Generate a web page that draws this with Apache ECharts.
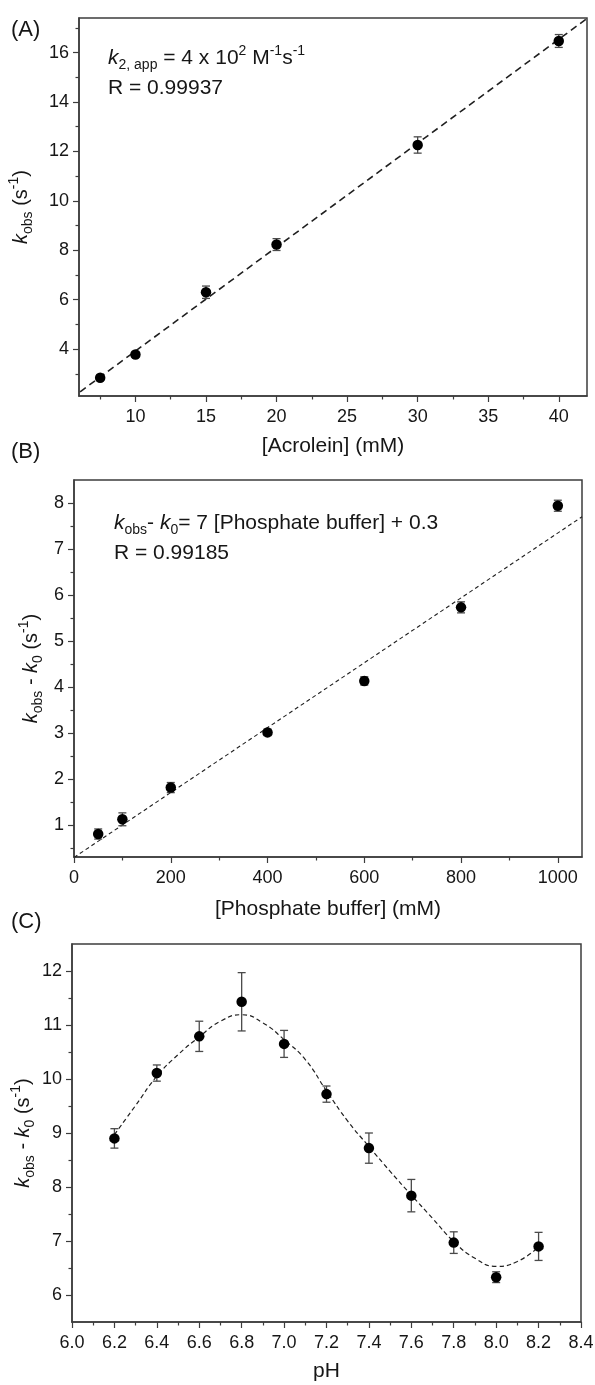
<!DOCTYPE html>
<html>
<head>
<meta charset="utf-8">
<script src="https://cdn.jsdelivr.net/npm/echarts@6/dist/echarts.min.js"></script>
<style>
  html, body { margin: 0; padding: 0; background: #fff; }
  #chart { width: 595px; height: 1385px; }
</style>
</head>
<body>
<div id="chart"></div>
<script>
// ---- Panel A: k_obs vs [Acrolein] ----
const acroleinConc = [7.5, 10, 15, 20, 30, 40];
const kobsA = [2.84, 3.78, 6.30, 8.23, 12.26, 16.47];
const kobsAErr = [0.09, 0.10, 0.25, 0.24, 0.33, 0.26];
const fitAx = [6.08, 42];
const fitAy = [2.27, 17.38];
const ticksAx = [10, 15, 20, 25, 30, 35, 40];
const minorAx = [7.5, 12.5, 17.5, 22.5, 27.5, 32.5, 37.5];
const ticksAy = [4, 6, 8, 10, 12, 14, 16];
const minorAy = [3, 5, 7, 9, 11, 13, 15, 17];

// ---- Panel B: k_obs - k_0 vs [Phosphate buffer] ----
const phosphateConc = [50, 100, 200, 400, 600, 800, 1000];
const kB = [0.80, 1.12, 1.81, 3.01, 4.13, 5.73, 7.94];
const kBErr = [0.11, 0.14, 0.11, 0.07, 0.09, 0.12, 0.12];
const fitBx = [0, 1050];
const fitBy = [0.29, 7.70];
const ticksBx = [0, 200, 400, 600, 800, 1000];
const minorBx = [100, 300, 500, 700, 900];
const ticksBy = [1, 2, 3, 4, 5, 6, 7, 8];
const minorBy = [0.5, 1.5, 2.5, 3.5, 4.5, 5.5, 6.5, 7.5];

// ---- Panel C: k_obs - k_0 vs pH ----
const pHValues = [6.2, 6.4, 6.6, 6.8, 7.0, 7.2, 7.4, 7.6, 7.8, 8.0, 8.2];
const kC = [8.90, 10.11, 10.79, 11.43, 10.65, 9.72, 8.72, 7.84, 6.97, 6.33, 6.90];
const kCErr = [0.18, 0.15, 0.28, 0.54, 0.25, 0.15, 0.28, 0.30, 0.20, 0.10, 0.26];
const curvePH = [6.2, 6.3, 6.4, 6.5, 6.6, 6.7, 6.8, 6.9, 7.0, 7.1, 7.2,
                 7.3, 7.4, 7.5, 7.6, 7.7, 7.8, 7.9, 8.0, 8.1, 8.2];
const curveK = [8.97, 9.51, 10.05, 10.45, 10.78, 11.07, 11.19, 11.04, 10.73, 10.36, 9.78,
                9.22, 8.75, 8.29, 7.85, 7.42, 6.99, 6.68, 6.53, 6.62, 6.89];
const ticksCx = [6.0, 6.2, 6.4, 6.6, 6.8, 7.0, 7.2, 7.4, 7.6, 7.8, 8.0, 8.2, 8.4];
const minorCx = [6.1, 6.3, 6.5, 6.7, 6.9, 7.1, 7.3, 7.5, 7.7, 7.9, 8.1, 8.3];
const ticksCy = [6, 7, 8, 9, 10, 11, 12];
const minorCy = [6.5, 7.5, 8.5, 9.5, 10.5, 11.5];

const FONT = '"Liberation Sans", Arial, sans-serif';
const TEXT = '#161616';
const FRAME = '#3c3c3c';

const zip = (xs, ys, es) => xs.map((x, i) => es ? [x, ys[i], es[i]] : [x, ys[i]]);

// italic symbol, subscript and superscript styles for rich text
function richStyles(size) {
  const small = Math.round(size * 0.68);
  return {
    i: { fontStyle: 'italic', fontSize: size, lineHeight: 28, fontFamily: FONT, color: TEXT, fill: TEXT },
    sub: { fontSize: small, lineHeight: 16, verticalAlign: 'bottom', fontFamily: FONT, color: TEXT, fill: TEXT },
    sup: { fontSize: small, lineHeight: 18, verticalAlign: 'top', fontFamily: FONT, color: TEXT, fill: TEXT }
  };
}

function mainX(grid, min, max, ticks, fmt, name, gap) {
  return {
    gridIndex: grid, type: 'value', position: 'bottom', min: min, max: max,
    axisLine: { show: true, onZero: false, lineStyle: { color: FRAME, width: 1.5 } },
    axisTick: { show: true, inside: false, length: 6, customValues: ticks, lineStyle: { color: FRAME, width: 1.2 } },
    axisLabel: { show: true, customValues: ticks, margin: 12, fontSize: 18, fontFamily: FONT, color: TEXT, formatter: fmt },
    splitLine: { show: false },
    name: name, nameLocation: 'middle', nameGap: gap, nameMoveOverlap: false,
    nameTextStyle: { fontSize: 21, fontFamily: FONT, color: TEXT }
  };
}
function mainY(grid, min, max, ticks, name, gap) {
  return {
    gridIndex: grid, type: 'value', position: 'left', min: min, max: max,
    axisLine: { show: true, onZero: false, lineStyle: { color: FRAME, width: 1.5 } },
    axisTick: { show: true, inside: false, length: 6, customValues: ticks, lineStyle: { color: FRAME, width: 1.2 } },
    axisLabel: { show: true, customValues: ticks, margin: 10, fontSize: 18, fontFamily: FONT, color: TEXT },
    splitLine: { show: false },
    name: name, nameLocation: 'middle', nameGap: gap, nameMoveOverlap: false,
    nameTextStyle: { fontSize: 20, lineHeight: 28, fontFamily: FONT, color: TEXT, rich: richStyles(20) }
  };
}
function minorAxis(grid, min, max, ticks, pos) {
  return {
    gridIndex: grid, type: 'value', position: pos, min: min, max: max,
    axisLine: { show: false, onZero: false },
    axisTick: { show: true, inside: false, length: 3.5, customValues: ticks, lineStyle: { color: FRAME, width: 1.2 } },
    axisLabel: { show: false },
    splitLine: { show: false }
  };
}

function errorBarItem(params, api) {
  const x = api.value(0), y = api.value(1), e = api.value(2);
  const top = api.coord([x, y + e]);
  const bot = api.coord([x, y - e]);
  const cap = 4;
  const style = { stroke: '#4a4a4a', lineWidth: 1.3 };
  return {
    type: 'group',
    children: [
      { type: 'line', shape: { x1: top[0], y1: top[1], x2: bot[0], y2: bot[1] }, style: style },
      { type: 'line', shape: { x1: top[0] - cap, y1: top[1], x2: top[0] + cap, y2: top[1] }, style: style },
      { type: 'line', shape: { x1: bot[0] - cap, y1: bot[1], x2: bot[0] + cap, y2: bot[1] }, style: style }
    ]
  };
}

function panelSeries(idx, xs, ys, es, fitX, fitY, dash, lw, smooth) {
  return [
    {
      type: 'line', xAxisIndex: idx, yAxisIndex: idx, data: zip(fitX, fitY),
      showSymbol: false, symbol: 'none', smooth: smooth, clip: true, z: 1, silent: true,
      lineStyle: { color: '#202020', width: lw, type: dash }
    },
    {
      type: 'custom', xAxisIndex: idx, yAxisIndex: idx, data: zip(xs, ys, es),
      encode: { x: 0, y: 1 }, renderItem: errorBarItem, z: 2, silent: true
    },
    {
      type: 'scatter', xAxisIndex: idx, yAxisIndex: idx, data: zip(xs, ys),
      symbol: 'circle', symbolSize: 10.5, z: 3, silent: true,
      itemStyle: { color: '#000000', borderWidth: 0, opacity: 1 }
    }
  ];
}

const kobsName = '{i|k}{sub|obs} (s{sup|-1})';
const diffName = '{i|k}{sub|obs} - {i|k}{sub|0} (s{sup|-1})';

function annotation(x, y, text) {
  return {
    type: 'text', x: x, y: y, z: 10,
    style: {
      text: text, fontSize: 21, fontFamily: FONT, fill: TEXT,
      lineHeight: 28, align: 'left', verticalAlign: 'middle', rich: richStyles(21)
    }
  };
}
function panelLabel(y, text) {
  return {
    type: 'text', x: 11, y: y, z: 10,
    style: { text: text, fontSize: 22, fontFamily: FONT, fill: TEXT, align: 'left', verticalAlign: 'middle' }
  };
}

const chart = echarts.init(document.getElementById('chart'), null, { renderer: 'canvas' });
chart.setOption({
  backgroundColor: '#ffffff',
  animation: false,
  grid: [
    { left: 79, top: 18, width: 508, height: 378, show: true, borderColor: FRAME, borderWidth: 1.5, containLabel: false, outerBoundsMode: 'none' },
    { left: 74, top: 480, width: 508, height: 377, show: true, borderColor: FRAME, borderWidth: 1.5, containLabel: false, outerBoundsMode: 'none' },
    { left: 72, top: 944, width: 509, height: 378, show: true, borderColor: FRAME, borderWidth: 1.5, containLabel: false, outerBoundsMode: 'none' }
  ],
  xAxis: [
    mainX(0, 6, 42, ticksAx, v => String(v), '[Acrolein] (mM)', 40),
    mainX(1, 0, 1050, ticksBx, v => String(v), '[Phosphate buffer] (mM)', 42),
    mainX(2, 6.0, 8.4, ticksCx, v => v.toFixed(1), 'pH', 39),
    minorAxis(0, 6, 42, minorAx, 'bottom'),
    minorAxis(1, 0, 1050, minorBx, 'bottom'),
    minorAxis(2, 6.0, 8.4, minorCx, 'bottom')
  ],
  yAxis: [
    mainY(0, 2.1, 17.4, ticksAy, kobsName, 44),
    mainY(1, 0.3, 8.5, ticksBy, diffName, 29),
    mainY(2, 5.5, 12.5, ticksCy, diffName, 35),
    minorAxis(0, 2.1, 17.4, minorAy, 'left'),
    minorAxis(1, 0.3, 8.5, minorBy, 'left'),
    minorAxis(2, 5.5, 12.5, minorCy, 'left')
  ],
  series: [
    ...panelSeries(0, acroleinConc, kobsA, kobsAErr, fitAx, fitAy, [7, 4.5], 1.6, false),
    ...panelSeries(1, phosphateConc, kB, kBErr, fitBx, fitBy, [4, 3], 1.1, false),
    ...panelSeries(2, pHValues, kC, kCErr, curvePH, curveK, [4.5, 3], 1.2, true)
  ],
  graphic: [
    panelLabel(30, '(A)'),
    panelLabel(452, '(B)'),
    panelLabel(922, '(C)'),
    annotation(108, 58, '{i|k}{sub|2, app} = 4 x 10{sup|2} M{sup|-1}s{sup|-1}'),
    annotation(108, 88, 'R = 0.99937'),
    annotation(114, 523, '{i|k}{sub|obs}- {i|k}{sub|0}= 7 [Phosphate buffer] + 0.3'),
    annotation(114, 553, 'R = 0.99185')
  ]
});
</script>
</body>
</html>
